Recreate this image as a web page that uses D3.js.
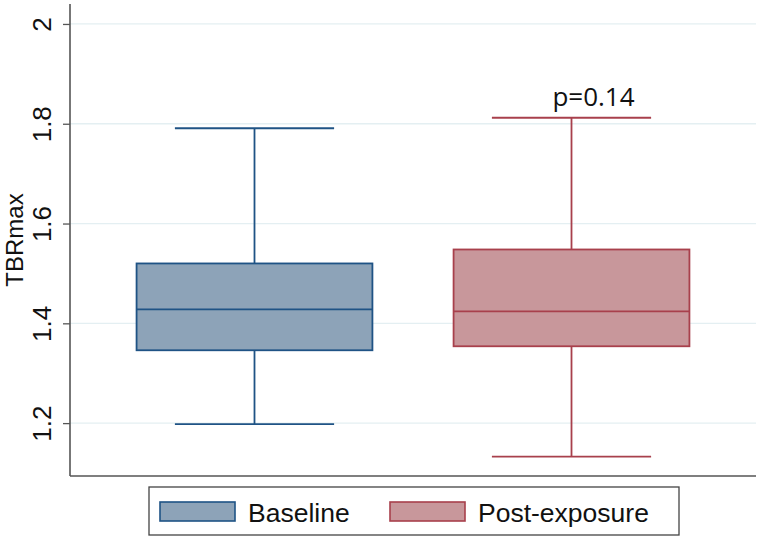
<!DOCTYPE html>
<html>
<head>
<meta charset="utf-8">
<script src="https://cdn.jsdelivr.net/npm/d3@7"></script>
<style>
  body { margin: 0; background: #fff; }
  svg { font-family: 'Liberation Sans', Arial, sans-serif; }
</style>
</head>
<body>
<div id="chart"></div>
<script>
// data
var groups = ['Baseline', 'Post-exposure'];
var whiskerLow  = [1.198, 1.133];
var quart1      = [1.346, 1.354];
var medians     = [1.428, 1.424];
var quart3      = [1.520, 1.548];
var whiskerHigh = [1.791, 1.812];
var yTicks = [1.2, 1.4, 1.6, 1.8, 2];
var pLabel = 'p=0.14';

var fills   = ['#8da3b8', '#c8979b'];
var strokes = ['#1f5385', '#a8404c'];

var width = 759, height = 540;
var margin = {left: 70, top: 4, right: 3, bottom: 64};

var svg = d3.select('#chart').append('svg')
    .attr('width', width)
    .attr('height', height);

var y = d3.scaleLinear()
    .domain([1.094, 2.04])
    .range([height - margin.bottom, margin.top]);

var x = d3.scaleBand()
    .domain(groups)
    .range([margin.left, width - margin.right])
    .paddingInner(0.256)
    .paddingOuter(0.21);

// grid lines
svg.append('g')
  .selectAll('line')
  .data(yTicks)
  .enter().append('line')
    .attr('x1', margin.left)
    .attr('x2', width - margin.right)
    .attr('y1', function(d) { return y(d); })
    .attr('y2', function(d) { return y(d); })
    .attr('stroke', '#e4eff2')
    .attr('stroke-width', 1.3);

// boxes
var box = svg.append('g')
  .selectAll('g')
  .data(groups)
  .enter().append('g');

box.each(function(d, i) {
  var g = d3.select(this);
  var x0 = x(d), bw = x.bandwidth(), cx = x0 + bw / 2;
  var capW = bw * 0.675;
  var sw = 1.8;

  // whiskers
  g.append('line')
    .attr('x1', cx).attr('x2', cx)
    .attr('y1', y(whiskerHigh[i])).attr('y2', y(quart3[i]))
    .attr('stroke', strokes[i]).attr('stroke-width', sw);
  g.append('line')
    .attr('x1', cx).attr('x2', cx)
    .attr('y1', y(quart1[i])).attr('y2', y(whiskerLow[i]))
    .attr('stroke', strokes[i]).attr('stroke-width', sw);
  g.append('line')
    .attr('x1', cx - capW / 2).attr('x2', cx + capW / 2)
    .attr('y1', y(whiskerHigh[i])).attr('y2', y(whiskerHigh[i]))
    .attr('stroke', strokes[i]).attr('stroke-width', sw);
  g.append('line')
    .attr('x1', cx - capW / 2).attr('x2', cx + capW / 2)
    .attr('y1', y(whiskerLow[i])).attr('y2', y(whiskerLow[i]))
    .attr('stroke', strokes[i]).attr('stroke-width', sw);

  // box
  g.append('rect')
    .attr('x', x0)
    .attr('width', bw)
    .attr('y', y(quart3[i]))
    .attr('height', y(quart1[i]) - y(quart3[i]))
    .attr('fill', fills[i])
    .attr('stroke', strokes[i])
    .attr('stroke-width', sw);
  g.append('line')
    .attr('x1', x0).attr('x2', x0 + bw)
    .attr('y1', y(medians[i])).attr('y2', y(medians[i]))
    .attr('stroke', strokes[i]).attr('stroke-width', sw);
});

// p value label
svg.append('text')
  .attr('x', x(groups[1]) + x.bandwidth() / 2 + 22)
  .attr('y', y(whiskerHigh[1]) - 12)
  .attr('text-anchor', 'middle')
  .attr('font-family', "'Open Sans', sans-serif")
  .attr('font-size', 26)
  .attr('fill', '#111')
  .text(pLabel);

// y axis
var yAxis = svg.append('g')
  .attr('transform', 'translate(' + margin.left + ',0)')
  .call(d3.axisLeft(y).tickValues(yTicks).tickSize(7).tickFormat(d3.format('')));
yAxis.attr('font-family', null).attr('font-size', null);
yAxis.select('.domain')
  .attr('d', 'M0,' + (height - margin.bottom) + 'V' + margin.top)
  .attr('stroke', '#555').attr('stroke-width', 1.6);
yAxis.selectAll('.tick line').attr('stroke', '#555').attr('stroke-width', 1.3);
yAxis.selectAll('.tick text')
  .attr('font-size', 26)
  .attr('fill', '#111')
  .attr('text-anchor', 'middle')
  .attr('transform', 'translate(-28,0) rotate(-90)')
  .attr('x', 0)
  .attr('dy', '0.36em');

// bottom axis line
svg.append('line')
  .attr('x1', margin.left).attr('x2', width - margin.right)
  .attr('y1', height - margin.bottom).attr('y2', height - margin.bottom)
  .attr('stroke', '#555').attr('stroke-width', 1.6);

// y axis title
svg.append('text')
  .attr('transform', 'translate(23,240) rotate(-90)')
  .attr('text-anchor', 'middle')
  .attr('font-size', 24)
  .attr('fill', '#111')
  .text('TBRmax');

// legend
var legend = svg.append('g');
legend.append('rect')
  .attr('x', 149).attr('y', 487)
  .attr('width', 530).attr('height', 48)
  .attr('fill', '#fff')
  .attr('stroke', '#444').attr('stroke-width', 1.3);

var legendX = [160, 390];
var item = legend.selectAll('g')
  .data(groups)
  .enter().append('g')
    .attr('transform', function(d, i) { return 'translate(' + legendX[i] + ',502)'; });

item.append('rect')
  .attr('width', 75).attr('height', 19)
  .attr('fill', function(d, i) { return fills[i]; })
  .attr('stroke', function(d, i) { return strokes[i]; })
  .attr('stroke-width', 1.6);

item.append('text')
  .attr('x', 88)
  .attr('y', 20)
  .attr('font-size', 26.5)
  .attr('fill', '#111')
  .text(function(d) { return d; });
</script>
</body>
</html>
